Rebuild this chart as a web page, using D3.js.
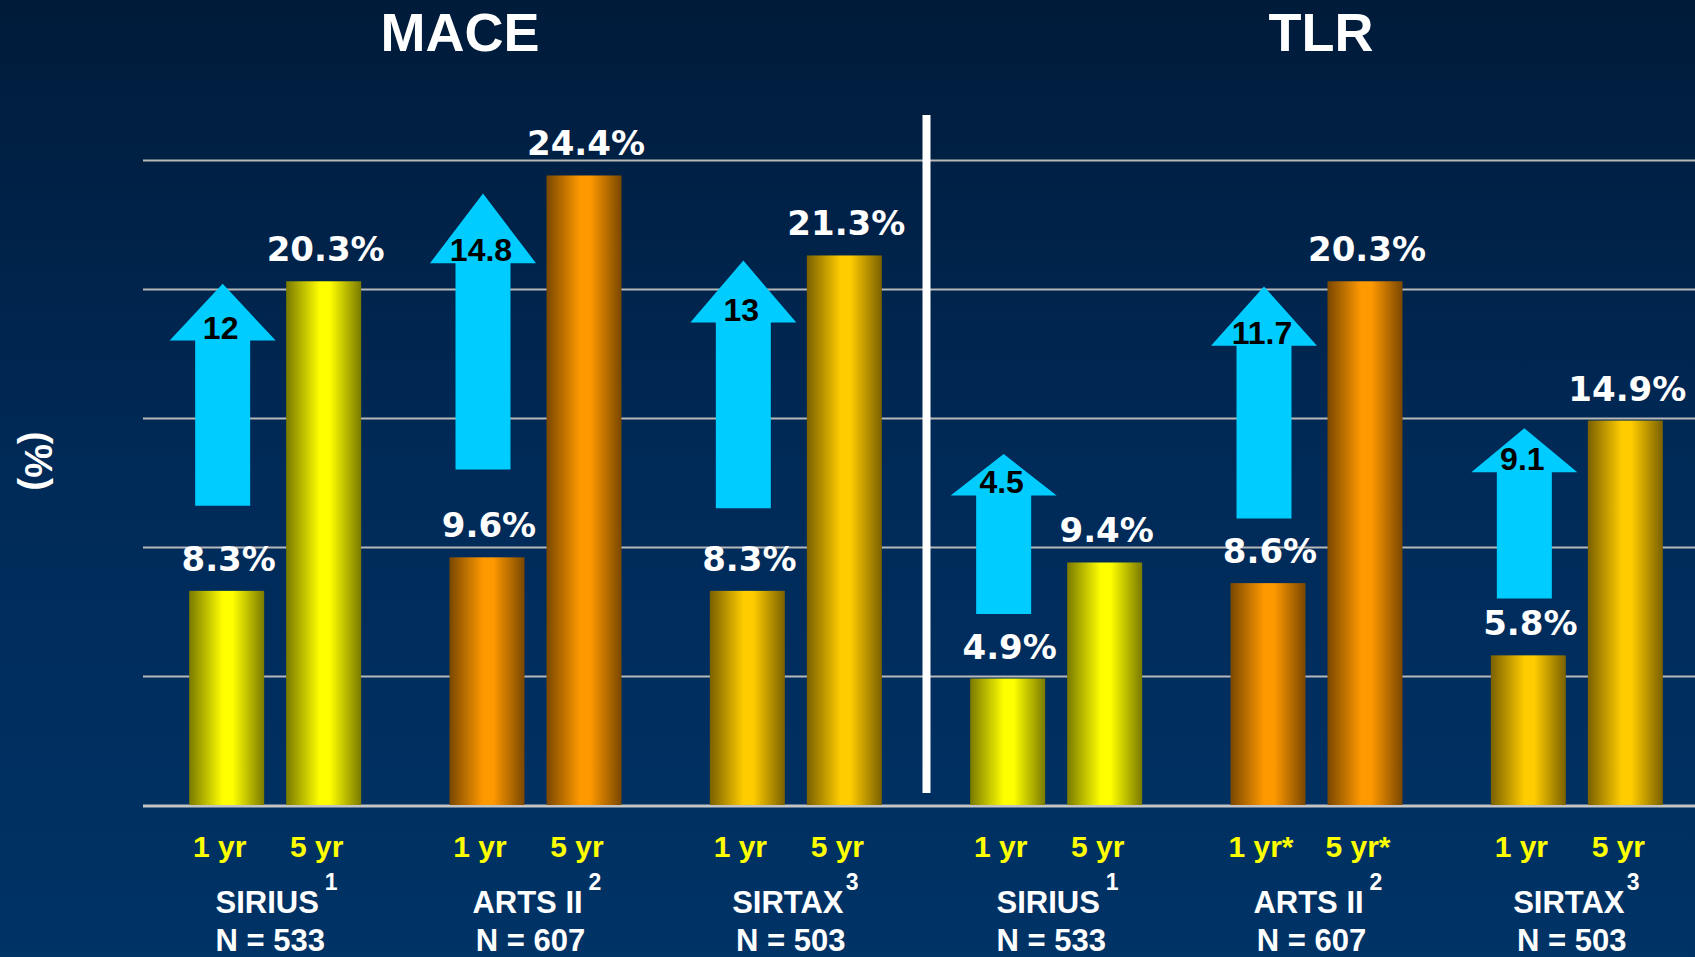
<!DOCTYPE html>
<html>
<head>
<meta charset="utf-8">
<script src="https://cdn.jsdelivr.net/npm/d3@7"></script>
<style>
  html, body { margin: 0; padding: 0; background: #002449; }
  svg { display: block; }
</style>
</head>
<body>
<svg id="chart" width="1695" height="957"></svg>
<script>
// ---------------- DATA ----------------
const panels = ["MACE", "TLR"];
const studies = ["SIRIUS", "ARTS II", "SIRTAX"];
const studyRefs = ["1", "2", "3"];
const studyN = [533, 607, 503];
const periods = ["1 yr", "5 yr"];
const periodSuffix = [["", ""], ["", ""], ["", ""], ["", ""], ["*", "*"], ["", ""]];

const mace1yr = [8.3, 9.6, 8.3];
const mace5yr = [20.3, 24.4, 21.3];
const tlr1yr = [4.9, 8.6, 5.8];
const tlr5yr = [9.4, 20.3, 14.9];

const maceIncrease = ["12", "14.8", "13"];
const tlrIncrease = ["4.5", "11.7", "9.1"];

// arrow extents, in % units
const arrowTip = [20.2, 23.7, 21.1, 13.6, 20.1, 14.6];
const arrowHeadBase = [18.0, 21.0, 18.7, 12.0, 17.8, 12.9];
const arrowTail = [11.6, 13.0, 11.5, 7.4, 11.1, 8.0];

const yTicks = [5, 10, 15, 20, 25];

// ---------------- BUILD TABLE ----------------
const groups = [];
panels.forEach((p, pi) => {
  studies.forEach((s, si) => {
    const idx = pi * 3 + si;
    const v1 = p === "MACE" ? mace1yr[si] : tlr1yr[si];
    const v5 = p === "MACE" ? mace5yr[si] : tlr5yr[si];
    groups.push({
      key: p + "-" + s, panel: p, study: s, si, idx,
      ref: studyRefs[si], n: studyN[si],
      values: [v1, v5],
      increase: p === "MACE" ? maceIncrease[si] : tlrIncrease[si],
      tip: arrowTip[idx], headBase: arrowHeadBase[idx], tail: arrowTail[idx]
    });
  });
});

// ---------------- STYLES ----------------
const W = 1695, H = 957;
const brightColors = ["#ffff00", "#ff9900", "#ffcc00"];
const darkColors = ["#7a7a00", "#7a4700", "#7a6000"];
const boldSans = "'Liberation Sans', Arial, Helvetica, sans-serif";
const valueFont = "'DejaVu Sans', Verdana, sans-serif";

const svg = d3.select("#chart");
const defs = svg.append("defs");

const bg = defs.append("linearGradient").attr("id", "bg")
  .attr("x1", 0).attr("y1", 0).attr("x2", 0).attr("y2", 1);
bg.append("stop").attr("offset", "0%").attr("stop-color", "#001b3a");
bg.append("stop").attr("offset", "50%").attr("stop-color", "#002a58");
bg.append("stop").attr("offset", "100%").attr("stop-color", "#003366");

studies.forEach((s, i) => {
  const g = defs.append("linearGradient").attr("id", "bar" + i)
    .attr("x1", 0).attr("y1", 0).attr("x2", 1).attr("y2", 0);
  g.append("stop").attr("offset", "0%").attr("stop-color", darkColors[i]);
  g.append("stop").attr("offset", "45%").attr("stop-color", brightColors[i]);
  g.append("stop").attr("offset", "58%").attr("stop-color", brightColors[i]);
  g.append("stop").attr("offset", "100%").attr("stop-color", darkColors[i]);
});

svg.append("rect").attr("width", W).attr("height", H).attr("fill", "url(#bg)");

// ---------------- SCALES ----------------
const x0 = d3.scaleBand().domain(groups.map(d => d.key)).range([145, 1707]).padding(0);
const x1 = d3.scaleBand().domain(periods).range([-86, 86]).paddingInner(22 / 97).paddingOuter(0);
const y = d3.scaleLinear().domain([0, 25]).range([805, 160]);

// ---------------- GRID ----------------
const grid = svg.append("g").attr("transform", "translate(143,0)")
  .call(d3.axisLeft(y).tickValues(yTicks).tickSize(-(W - 143)).tickFormat(""));
grid.select(".domain").remove();
grid.selectAll(".tick line").attr("stroke", "#b8b8b8").attr("stroke-width", 2);

// baseline
svg.append("line").attr("x1", 143).attr("x2", W)
  .attr("y1", y(0) + 1).attr("y2", y(0) + 1)
  .attr("stroke", "#c4c4c4").attr("stroke-width", 3);

// panel separator
const sepX = x0(groups[3].key);
svg.append("rect").attr("x", sepX - 3.5).attr("width", 8)
  .attr("y", y(25) - 45).attr("height", y(0) - 12 - (y(25) - 45))
  .attr("fill", "#ffffff");

// ---------------- BARS ----------------
const gG = svg.selectAll("g.group").data(groups).join("g")
  .attr("class", "group")
  .attr("transform", d => `translate(${x0(d.key) + x0.bandwidth() / 2},0)`);

gG.selectAll("rect.bar").data(d => d.values.map((v, i) => ({ v, p: periods[i], si: d.si })))
  .join("rect").attr("class", "bar")
  .attr("x", d => x1(d.p))
  .attr("width", x1.bandwidth())
  .attr("y", d => y(d.v))
  .attr("height", d => y(0) - y(d.v))
  .attr("fill", d => `url(#bar${d.si})`);

// value labels
gG.selectAll("text.val").data(d => d.values.map((v, i) => ({ v, p: periods[i] })))
  .join("text").attr("class", "val")
  .attr("x", d => x1(d.p) + x1.bandwidth() / 2 + 2)
  .attr("y", d => y(d.v) - 20)
  .attr("text-anchor", "middle")
  .attr("fill", "#ffffff")
  .attr("font-family", valueFont).attr("font-weight", "bold").attr("font-size", 34)
  .text(d => d.v.toFixed(1) + "%");

// ---------------- ARROWS ----------------
const headHalf = 53, shaftHalf = 27.5;
gG.each(function (d) {
  const g = d3.select(this);
  const cx = x1(periods[0]) + x1.bandwidth() / 2 - 4;
  const t = y(d.tip), hb = y(d.headBase), tl = y(d.tail);
  const pts = [[cx, t], [cx + headHalf, hb], [cx + shaftHalf, hb], [cx + shaftHalf, tl],
               [cx - shaftHalf, tl], [cx - shaftHalf, hb], [cx - headHalf, hb]];
  g.append("path").attr("d", d3.line()(pts) + "Z").attr("fill", "#00ccff");
  g.append("text").attr("x", cx - 2).attr("y", hb - 2)
    .attr("text-anchor", "middle").attr("fill", "#000000")
    .attr("font-family", boldSans).attr("font-weight", "bold").attr("font-size", 32)
    .text(d.increase);
});

// ---------------- X LABELS ----------------
gG.each(function (d) {
  const g = d3.select(this);
  periods.forEach((p, i) => {
    g.append("text").attr("x", x1(p) + x1.bandwidth() / 2 - 7).attr("y", 857)
      .attr("text-anchor", "middle").attr("fill", "#ffff00")
      .attr("font-family", boldSans).attr("font-weight", "bold").attr("font-size", 30)
      .text(p + periodSuffix[d.idx][i]);
  });
  const name = g.append("text").attr("x", -8).attr("y", 913)
    .attr("text-anchor", "middle").attr("fill", "#ffffff")
    .attr("font-family", boldSans).attr("font-weight", "bold").attr("font-size", 31)
    .text(d.study);
  const bb = name.node().getBBox();
  g.append("text").attr("x", bb.x + bb.width + (d.si === 2 ? 2 : 6)).attr("y", 890)
    .attr("fill", "#ffffff")
    .attr("font-family", boldSans).attr("font-weight", "bold").attr("font-size", 23)
    .text(d.ref);
  g.append("text").attr("x", -5).attr("y", 951)
    .attr("text-anchor", "middle").attr("fill", "#ffffff")
    .attr("font-family", boldSans).attr("font-weight", "bold").attr("font-size", 31)
    .text("N = " + d.n);
});

// ---------------- TITLES ----------------
const titleX = [460, 1321];
panels.forEach((p, i) => {
  svg.append("text").attr("x", titleX[i]).attr("y", 51)
    .attr("text-anchor", "middle").attr("fill", "#ffffff")
    .attr("font-family", boldSans).attr("font-weight", "bold").attr("font-size", 54)
    .text(p);
});

// y axis label
svg.append("text").attr("transform", "translate(25,461) rotate(90)")
  .attr("text-anchor", "middle").attr("fill", "#ffffff")
  .attr("font-family", boldSans).attr("font-weight", "bold").attr("font-size", 38)
  .text("(%)");
</script>
</body>
</html>
